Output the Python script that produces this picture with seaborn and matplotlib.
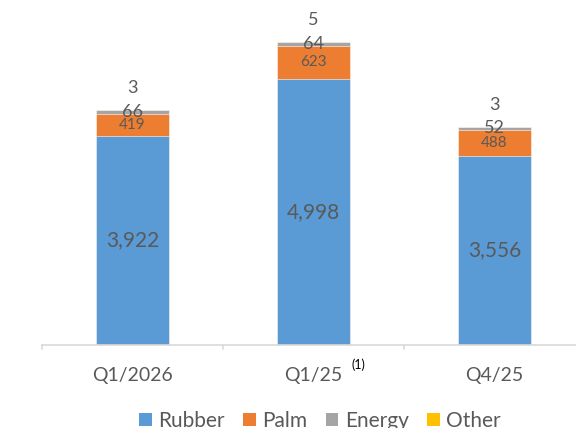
import numpy as np
import pandas as pd
import matplotlib
matplotlib.use("Agg")
import matplotlib.pyplot as plt
from matplotlib.patches import Patch
import seaborn as sns

quarters = ["Q1/2026", "Q1/25", "Q4/25"]
rubber = [3922, 4998, 3556]
palm = [419, 623, 488]
energy = [66, 64, 52]
other = [3, 5, 3]

segments = ["Rubber", "Palm", "Energy", "Other"]
colors = ["#5B9BD5", "#ED7D31", "#A5A5A5", "#FFC000"]

sns.set_theme(style="white")
plt.rcParams["font.family"] = ["Lato", "DejaVu Sans"]
TXT = "#595959"

df = pd.DataFrame({"quarter": quarters, "Rubber": rubber, "Palm": palm,
                   "Energy": energy, "Other": other})
cum = df[segments].cumsum(axis=1)

fig = plt.figure(figsize=(5.76, 4.28), dpi=100)
ax = fig.add_axes([42 / 576, 83 / 428, 543 / 576, 345 / 428])

# draw cumulative totals from the top layer down so they stack visually
for seg, col in reversed(list(zip(segments, colors))):
    sns.barplot(x=df["quarter"], y=cum[seg], color=col, width=0.4,
                saturation=1, ax=ax, edgecolor="white", linewidth=0.4)

ax.set_xlim(-0.5, 2.5)
ax.set_ylim(0, 6479)
ax.set_xlabel("")
ax.set_ylabel("")
ax.set_yticks([])
for s in ["top", "right", "left"]:
    ax.spines[s].set_visible(False)
ax.spines["bottom"].set_color("#d9d9d9")
ax.spines["bottom"].set_linewidth(1.2)

ax.set_xticks([0, 1, 2])
ax.set_xticklabels(quarters, fontsize=14, color=TXT)
ax.tick_params(axis="x", length=0, pad=16)
for xb in [-0.5, 0.5, 1.5, 2.5]:
    ax.plot([xb, xb], [0, -0.012], transform=ax.get_xaxis_transform(),
            color="#d9d9d9", lw=1.2, clip_on=False)

# value labels
for i in range(len(quarters)):
    ax.text(i, rubber[i] / 2, f"{rubber[i]:,}", ha="center", va="center",
            fontsize=15, color=TXT)
    ax.text(i, rubber[i] + palm[i] / 2, f"{palm[i]:,}", ha="center", va="center",
            fontsize=11, color=TXT)
    ax.text(i, cum.loc[i, "Energy"] - energy[i] / 2, f"{energy[i]:,}",
            ha="center", va="center", fontsize=13, color=TXT)
    ax.annotate(f"{other[i]:,}", (i, cum.loc[i, "Other"]), xytext=(0, 16),
                textcoords="offset points", ha="center", va="center",
                fontsize=13, color=TXT)

ax.text(1.21, -0.058, "(1)", transform=ax.get_xaxis_transform(),
        ha="left", va="center", fontsize=9, color="black")

handles = [Patch(facecolor=c, edgecolor="none") for c in colors]
fig.legend(handles, segments, loc="center", bbox_to_anchor=(320 / 576, 7 / 428),
           ncol=4, frameon=False, fontsize=15, handlelength=0.6, handleheight=0.6,
           handletextpad=0.3, columnspacing=0.9, labelcolor=TXT)

fig.savefig("out.png", dpi=100)
